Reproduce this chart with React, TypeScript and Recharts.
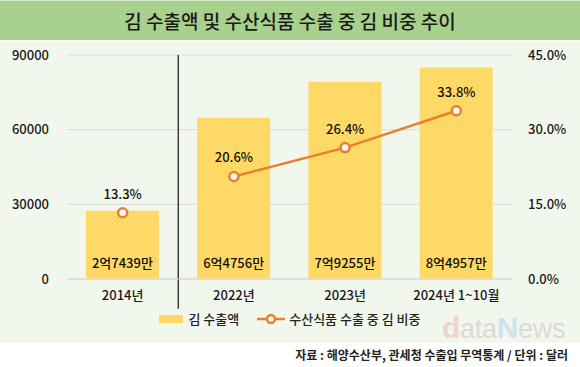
import {
  ComposedChart,
  Bar,
  Line,
  XAxis,
  YAxis,
  CartesianGrid,
  Legend,
  LabelList,
  ReferenceLine,
} from "recharts";

const categories = ["2014년", "2022년", "2023년", "2024년 1~10월"];
const exportValues = [27439, 64756, 79255, 84957];
const exportLabels = ["2억7439만", "6억4756만", "7억9255만", "8억4957만"];
const shareValues = [13.3, 20.6, 26.4, 33.8];
const leftTicks = [0, 30000, 60000, 90000];
const rightTicks = [0, 15, 30, 45];

// the line is broken at the separator: 2014 stands alone
const data = categories.map((c, i) => ({
  year: c,
  exports: exportValues[i],
  label: exportLabels[i],
  shareOld: i === 0 ? shareValues[i] : null,
  shareNew: i === 0 ? null : shareValues[i],
}));

const FONT = "'Noto Sans CJK KR', 'Noto Sans', sans-serif";
const BAR_COLOR = "#FFD966";
const LINE_COLOR = "#ED7D31";

function BarValueLabel(props: any) {
  const { x, y, width, height, index } = props;
  return (
    <text
      x={x + width / 2}
      y={y + height - 15}
      textAnchor="middle"
      dominantBaseline="middle"
      fontSize={13}
      fontWeight={500}
      fill="#111"
      fontFamily={FONT}
    >
      {exportLabels[index]}
    </text>
  );
}

function LegendContent() {
  return (
    <div
      style={{
        display: "flex",
        justifyContent: "center",
        alignItems: "center",
        gap: 18,
        fontFamily: FONT,
        fontSize: 13,
        fontWeight: 500,
        color: "#222",
      }}
    >
      <span style={{ display: "flex", alignItems: "center", gap: 5 }}>
        <svg width={24} height={10}>
          <rect x={0} y={1} width={24} height={8} fill={BAR_COLOR} />
        </svg>
        김 수출액
      </span>
      <span style={{ display: "flex", alignItems: "center", gap: 4 }}>
        <svg width={28} height={12}>
          <line x1={0} y1={6} x2={28} y2={6} stroke={LINE_COLOR} strokeWidth={2.5} />
          <circle cx={14} cy={6} r={4} fill="#fff" stroke={LINE_COLOR} strokeWidth={2.5} />
        </svg>
        수산식품 수출 중 김 비중
      </span>
    </div>
  );
}

const dotStyle = { r: 4.5, fill: "#fff", stroke: LINE_COLOR, strokeWidth: 2.5 };
const pctLabel = {
  position: "top" as const,
  offset: 14,
  formatter: (v: number) => (v == null ? "" : `${v}%`),
  style: { fontSize: 13, fontWeight: 500, fill: "#111", fontFamily: FONT },
};
const tickStyle = { fontSize: 13, fontWeight: 500, fill: "#1a1a1a", fontFamily: FONT };

export default function App() {
  return (
    <div
      style={{
        position: "absolute",
        left: 0,
        top: 0,
        width: 580,
        height: 367,
        background: "#fff",
        fontFamily: FONT,
      }}
    >
      <div
        style={{
          height: 40,
          background: "#A9D18E",
          borderTop: "1px solid #d8e8cc",
          boxSizing: "border-box",
          display: "flex",
          alignItems: "center",
          justifyContent: "center",
          fontSize: 19,
          fontWeight: 500,
          color: "#1a1a1a",
        }}
      >
        김 수출액 및 수산식품 수출 중 김 비중 추이
      </div>
      <div style={{ position: "absolute", top: 42, left: 0, width: 580, height: 301, background: "#F2F7EE" }}>
        <ComposedChart
          width={580}
          height={291}
          data={data}
          margin={{ top: 13, right: 0, left: 0, bottom: 0 }}
          barCategoryGap="17%"
        >
          <CartesianGrid vertical={false} stroke="#d9d9d9" yAxisId="left" />
          <XAxis
            dataKey="year"
            height={30}
            axisLine={{ stroke: "#d9d9d9" }}
            tickLine={false}
            tick={tickStyle}
            tickMargin={6}
          />
          <YAxis
            yAxisId="left"
            width={67}
            domain={[0, 90000]}
            ticks={leftTicks}
            axisLine={false}
            tickLine={false}
            tick={tickStyle}
            tickMargin={12}
          />
          <YAxis
            yAxisId="right"
            orientation="right"
            width={68}
            domain={[0, 45]}
            ticks={rightTicks}
            axisLine={false}
            tickLine={false}
            tickFormatter={(v: number) => `${v.toFixed(1)}%`}
            tick={tickStyle}
            tickMargin={10}
          />
          <ReferenceLine
            yAxisId="left"
            segment={[
              { x: "2022년", y: 90000 },
              { x: "2022년", y: -12000 },
            ]}
            position="start"
            ifOverflow="visible"
            stroke="#111"
            strokeWidth={1.2}
          />
          <Bar yAxisId="left" dataKey="exports" name="김 수출액" fill={BAR_COLOR} isAnimationActive={false}>
            <LabelList dataKey="label" content={<BarValueLabel />} />
          </Bar>
          <Line
            yAxisId="right"
            dataKey="shareOld"
            stroke={LINE_COLOR}
            strokeWidth={2.5}
            dot={dotStyle}
            connectNulls={false}
            isAnimationActive={false}
          >
            <LabelList dataKey="shareOld" {...pctLabel} />
          </Line>
          <Line
            yAxisId="right"
            dataKey="shareNew"
            name="수산식품 수출 중 김 비중"
            stroke={LINE_COLOR}
            strokeWidth={2.5}
            dot={dotStyle}
            connectNulls={false}
            isAnimationActive={false}
          >
            <LabelList dataKey="shareNew" {...pctLabel} />
          </Line>
          <Legend verticalAlign="bottom" height={24} content={<LegendContent />} />
        </ComposedChart>
        <div
          style={{
            position: "absolute",
            left: 442,
            top: 272,
            fontFamily: "'Liberation Sans', Arial, sans-serif",
            fontSize: 27,
            lineHeight: "28px",
            letterSpacing: -0.3,
            whiteSpace: "nowrap",
          }}
        >
          <span style={{ color: "#f4d2cd", fontWeight: 700, fontSize: 30 }}>d</span>
          <span style={{ color: "#d9dbd8" }}>ata</span>
          <span style={{ color: "#cde3ef", fontWeight: 700, fontSize: 30 }}>N</span>
          <span style={{ color: "#d9dbd8" }}>ews</span>
        </div>
      </div>
      <div
        style={{
          position: "absolute",
          right: 12,
          top: 346,
          fontSize: 12,
          fontWeight: 700,
          color: "#222",
        }}
      >
        자료 : 해양수산부, 관세청 수출입 무역통계 / 단위 : 달러
      </div>
    </div>
  );
}
